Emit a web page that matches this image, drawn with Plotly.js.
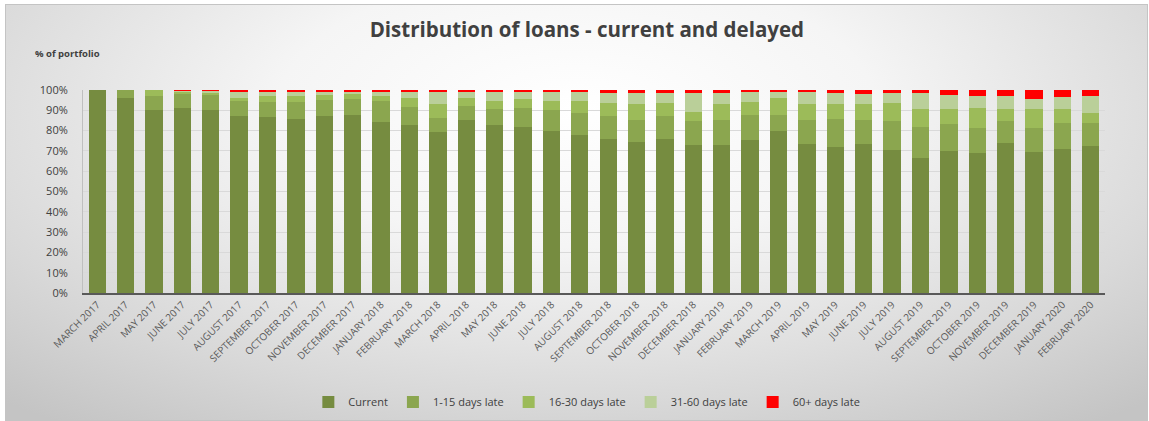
<!DOCTYPE html>
<html>
<head>
<meta charset="utf-8">
<script src="https://cdn.plot.ly/plotly-3.0.1.min.js"></script>
<style>
  html, body { margin: 0; padding: 0; background: #ffffff; }
  #wrap { position: relative; width: 1149px; height: 421px; overflow: hidden; }
  #bg { position: absolute; left: 5px; top: 4px; width: 1141px; height: 415px;
        border: 1px solid #c4c4c4;
        background: radial-gradient(ellipse 75% 95% at 50% 25%, #ffffff 0%, #f5f5f5 35%, #d8d8d8 75%, #c4c4c4 100%); }
  #chart { position: absolute; left: 0; top: 0; width: 1149px; height: 421px; }
</style>
</head>
<body>
<div id="wrap">
  <div id="bg"></div>
  <div id="chart"></div>
</div>
<script>
const months = ["MARCH 2017","APRIL 2017","MAY 2017","JUNE 2017","JULY 2017","AUGUST 2017","SEPTEMBER 2017","OCTOBER 2017","NOVEMBER 2017","DECEMBER 2017",
  "JANUARY 2018","FEBRUARY 2018","MARCH 2018","APRIL 2018","MAY 2018","JUNE 2018","JULY 2018","AUGUST 2018","SEPTEMBER 2018","OCTOBER 2018","NOVEMBER 2018","DECEMBER 2018",
  "JANUARY 2019","FEBRUARY 2019","MARCH 2019","APRIL 2019","MAY 2019","JUNE 2019","JULY 2019","AUGUST 2019","SEPTEMBER 2019","OCTOBER 2019","NOVEMBER 2019","DECEMBER 2019",
  "JANUARY 2020","FEBRUARY 2020"];

const current = [100,96,90,91,90,87.2,86.7,85.7,87.2,87.7,84.3,82.8,79.2,85.2,82.8,81.6,80,78,75.9,74.4,75.9,73,73,75.4,80,73.4,72,73.4,70.5,66.4,70,69,74.1,69.5,71,72.5];
const late1to15 = [0,4,7,7,7.3,7.2,7.2,8.2,7.7,7.7,10.1,9,7.2,7.1,7.9,9.7,10.2,10.7,11.3,10.8,11.3,11.8,12.2,12.3,7.7,11.8,13.7,11.8,14.3,15.2,13.3,12.1,10.7,11.6,12.8,11.3];
const late16to30 = [0,0,3,1,1,1.7,3,3,2.6,2.6,2.8,4.1,6.6,3.6,4.1,4.1,4.6,6.1,6.4,7.9,6.6,4.4,7.9,6.6,8.2,8.1,7.6,8.1,9,9.1,7.4,10.2,5.9,9.6,6.9,5.1];
const late31to60 = [0,0,0,0.3,1,2.8,2.1,2.1,1.5,0.9,1.8,3,5.9,3,4.1,3.5,4.1,4.1,4.8,5.3,4.9,9.2,5.3,4.6,3,5.6,5.1,4.6,4.6,7.7,6.7,5.6,6.2,5,5.7,8.1];
const late60plus = [0,0,0,0.7,0.7,1.1,1,1,1,1.1,1,1.1,1.1,1.1,1.1,1.1,1.1,1.1,1.6,1.6,1.3,1.6,1.6,1.1,1.1,1.1,1.6,2.1,1.6,1.6,2.6,3.1,3.1,4.3,3.6,3];

const seriesNames = ["Current","1-15 days late","16-30 days late","31-60 days late","60+ days late"];
const seriesColors = ["#768c40","#8ba64f","#9cbb59","#bacf99","#ff0000"];
const seriesValues = [current, late1to15, late16to30, late31to60, late60plus];

const traces = seriesValues.map((vals, i) => ({
  type: 'bar',
  name: seriesNames[i],
  x: months,
  y: vals,
  marker: { color: seriesColors[i], line: { width: 0 } },
  hoverinfo: 'x+y+name'
}));

const layout = {
  width: 1149, height: 421,
  barmode: 'stack',
  bargap: 0.39,
  paper_bgcolor: 'rgba(0,0,0,0)',
  plot_bgcolor: 'rgba(0,0,0,0)',
  margin: { l: 83, r: 44, t: 90, b: 127.5, pad: 0, autoexpand: false },
  font: { family: 'Open Sans, sans-serif', color: '#404040' },
  title: {
    text: '<b>Distribution of loans - current and delayed</b>',
    x: 0.493, xanchor: 'center', xref: 'paper',
    y: 0.928, yanchor: 'middle', yref: 'container',
    font: { family: 'Open Sans, sans-serif', size: 20.5, color: '#404040' }
  },
  xaxis: {
    type: 'category',
    tickangle: -45,
    tickfont: { family: 'Open Sans, sans-serif', size: 10, color: '#595959' },
    showgrid: false,
    showline: true, linecolor: '#595959', linewidth: 2,
    ticks: '', ticklen: 0,
    automargin: false,
    fixedrange: true
  },
  yaxis: {
    range: [0, 100],
    dtick: 10,
    ticksuffix: '%',
    tickfont: { family: 'Open Sans, sans-serif', size: 11, color: '#404040' },
    showgrid: true, gridcolor: '#d9d9d9', gridwidth: 1,
    showline: true, linecolor: '#bfbfbf', linewidth: 1,
    zeroline: false,
    ticks: '',
    ticklabelstandoff: 12,
    automargin: false,
    fixedrange: true
  },
  legend: {
    orientation: 'h',
    x: 0.493, xanchor: 'center', xref: 'paper',
    y: 0.045, yanchor: 'middle', yref: 'container',
    font: { family: 'Open Sans, sans-serif', size: 11, color: '#404040' },
    traceorder: 'normal',
    itemwidth: 30,
    itemclick: false, itemdoubleclick: false,
    bgcolor: 'rgba(0,0,0,0)'
  },
  annotations: [{
    text: '<b>% of portfolio</b>',
    xref: 'paper', yref: 'paper',
    x: -0.049, xanchor: 'left',
    y: 1.18, yanchor: 'middle',
    showarrow: false,
    font: { family: 'Open Sans, sans-serif', size: 9.5, color: '#404040' }
  }],
  showlegend: true
};

Plotly.newPlot('chart', traces, layout, { displayModeBar: false, staticPlot: true });
</script>
</body>
</html>
